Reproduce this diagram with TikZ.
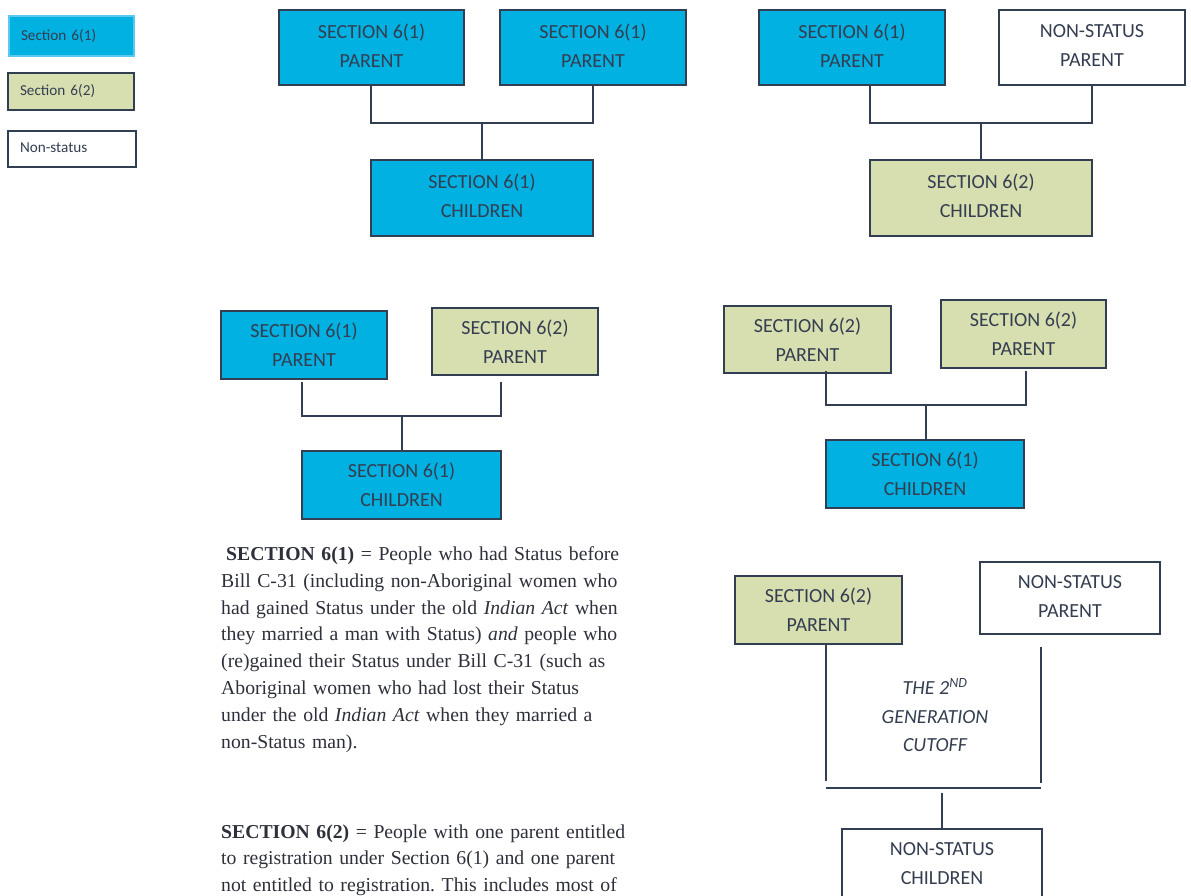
\documentclass[tikz,border=0pt]{standalone}
\usepackage{fontspec}
\setmainfont{Liberation Serif}
\newfontfamily\calfont{Carlito}
\usetikzlibrary{calc}
\definecolor{sixone}{RGB}{0,177,226}
\definecolor{sixtwo}{RGB}{215,223,176}
\definecolor{edgec}{RGB}{50,62,82}
\definecolor{txtc}{RGB}{52,62,80}
\definecolor{legblue}{RGB}{90,200,240}
\definecolor{paratxt}{RGB}{45,48,58}
\frenchspacing
\begin{document}
\begin{tikzpicture}[x=1pt,y=-1pt,
  famboxbase/.style={draw=edgec, line width=2pt, inner sep=0pt, outer sep=0pt, align=center, text=txtc, font=\calfont\fontsize{20}{29}\selectfont},
  tall/.style={text depth=4pt},
  blu/.style={famboxbase, fill=sixone},
  grn/.style={famboxbase, fill=sixtwo},
  wht/.style={famboxbase, fill=white},
  link/.style={draw=edgec, line width=2pt},
  legbox/.style={anchor=west, line width=2pt, inner ysep=0pt, inner xsep=12pt, outer sep=0pt, align=left, text=txtc, text depth=3pt, font=\calfont\fontsize{15.2}{18}\selectfont},
  para/.style={anchor=base west, inner sep=0pt, text width=440pt, align=left, text=paratxt, font=\fontsize{19.7}{26.8}\selectfont},
  cutoff/.style={align=center, inner sep=0pt, text=txtc, font=\calfont\itshape\fontsize{20}{28.5}\selectfont}
]
\useasboundingbox (0,0) rectangle (1191,895);
\clip (0,0) rectangle (1191,895);

% legend
\node[legbox, fill=sixone, draw=legblue, minimum height=40pt, text width=101pt] (k1) at (9,36) {Section 6(1)};
\node[legbox, fill=sixtwo, draw=edgec, minimum height=37pt, text width=102pt] (k2) at (8,91.5) {Section 6(2)};
\node[legbox, fill=white, draw=edgec, minimum height=36pt, text width=104pt] (k3) at (8,149) {Non-status};

% diagram 1
\node[blu, tall, minimum width=185pt, minimum height=75pt] (a1) at (371.5,47.5) {SECTION 6(1)\\PARENT};
\node[blu, tall, minimum width=186pt, minimum height=75pt] (a2) at (593,47.5) {SECTION 6(1)\\PARENT};
\node[blu, tall, minimum width=222pt, minimum height=76pt] (a3) at (482,198) {SECTION 6(1)\\CHILDREN};
\coordinate (j1) at (482,123);
\draw[link] (a1.south -| a3.west) |- (j1) -| (a2.south);
\draw[link] (j1) -- (a3.north);

% diagram 2
\node[blu, tall, minimum width=186pt, minimum height=75pt] (b1) at (852,47.5) {SECTION 6(1)\\PARENT};
\node[wht, tall, minimum width=186pt, minimum height=75pt] (b2) at (1092,47.5) {NON-STATUS\\PARENT};
\node[grn, tall, minimum width=222pt, minimum height=76pt] (b3) at (981,198) {SECTION 6(2)\\CHILDREN};
\coordinate (j2) at (981,123);
\draw[link] (b1.south -| b3.west) |- (j2) -| (b2.south);
\draw[link] (j2) -- (b3.north);

% diagram 3
\node[blu, minimum width=166pt, minimum height=68pt] (c1) at (304,345) {SECTION 6(1)\\PARENT};
\node[grn, minimum width=166pt, minimum height=67pt] (c2) at (515,341.5) {SECTION 6(2)\\PARENT};
\node[blu, minimum width=199pt, minimum height=68pt] (c3) at (401.5,485) {SECTION 6(1)\\CHILDREN};
\coordinate (j3) at (401.5,416);
\draw[link] ($(c1.south -| c3.west)+(0,3)$) |- (j3) -| ($(c2.south -| c3.east)+(0,7)$);
\draw[link] (j3) -- (c3.north);

% diagram 4
\node[grn, minimum width=167pt, minimum height=67pt] (d1) at (807.5,339.5) {SECTION 6(2)\\PARENT};
\node[grn, minimum width=165pt, minimum height=68pt] (d2) at (1023.5,334) {SECTION 6(2)\\PARENT};
\node[blu, minimum width=198pt, minimum height=68pt] (d3) at (925,474) {SECTION 6(1)\\CHILDREN};
\coordinate (j4) at (926,405);
\draw[link] ($(d1.south -| d3.west)+(0,-2)$) |- (j4) -| ($(d2.south -| d3.east)+(2,3)$);
\draw[link] (j4) -- (d3.north -| j4);

% diagram 5
\node[grn, minimum width=167pt, minimum height=68pt] (e1) at (818.5,610) {SECTION 6(2)\\PARENT};
\node[wht, tall, minimum width=180pt, minimum height=72pt] (e2) at (1070,598) {NON-STATUS\\PARENT};
\node[wht, minimum width=200pt, minimum height=69pt] (e3) at (942,863.5) {NON-STATUS\\CHILDREN};
\coordinate (e1f) at (826,781);
\coordinate (e2f) at (1041,783);
\coordinate (barL) at (826,788);
\coordinate (barR) at (1041,788);
\coordinate (e3f) at (942,793);
\draw[link] ($(e1.south -| e1f)+(0,1)$) -- (e1f);
\draw[link] ($(e2.south -| e2f)+(0,13)$) -- (e2f);
\draw[link, line width=1.6pt] (barL) -- (barR);
\draw[link] (e3f) -- (e3.north -| e3f);
\node[cutoff] (cut) at (935,715) {THE 2\textsuperscript{ND}\\GENERATION\\CUTOFF};

% definitions
\node[para] (p1) at (221,560.5) {\hspace*{5pt}\textbf{SECTION 6(1)} = People who had Status before\\
Bill C-31 (including non-Aboriginal women who\\
had gained Status under the old \textit{Indian Act} when\\
they married a man with Status) \textit{and} people who\\
(re)gained their Status under Bill C-31 (such as\\
Aboriginal women who had lost their Status\\
under the old \textit{Indian Act} when they married a\\
non-Status man).};
\node[para] (p2) at (221,838) {\textbf{SECTION 6(2)} = People with one parent entitled\\
to registration under Section 6(1) and one parent\\
not entitled to registration. This includes most of};
\end{tikzpicture}
\end{document}
